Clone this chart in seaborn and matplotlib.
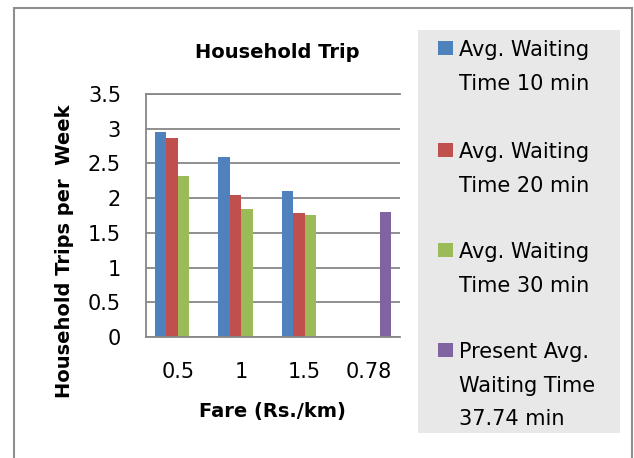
import numpy as np
import pandas as pd
import matplotlib
matplotlib.use("Agg")
import matplotlib.pyplot as plt
from matplotlib.patches import Rectangle
import seaborn as sns

# Fare categories on the x axis (kept as text so 0.78 stays last)
fares = ["0.5", "1", "1.5", "0.78"]
scenario_fares = ["0.5", "1", "1.5"]
present_fares = ["0.78"]

# Household trips per week for each waiting-time scenario
wait_10 = [2.95, 2.59, 2.11]
wait_20 = [2.87, 2.04, 1.78]
wait_30 = [2.32, 1.85, 1.76]
present_wait = [1.80]

series_labels = [
    "Avg. Waiting\nTime 10 min",
    "Avg. Waiting\nTime 20 min",
    "Avg. Waiting\nTime 30 min",
    "Present Avg.\nWaiting Time\n37.74 min",
]
colors = ["#4F81BD", "#C0504D", "#9BBB59", "#8064A2"]

ytick_values = [0, 0.5, 1, 1.5, 2, 2.5, 3, 3.5]
ytick_labels = ["0", "0.5", "1", "1.5", "2", "2.5", "3", "3.5"]

rows = []
for label, fare_list, vals in [
    (series_labels[0], scenario_fares, wait_10),
    (series_labels[1], scenario_fares, wait_20),
    (series_labels[2], scenario_fares, wait_30),
    (series_labels[3], present_fares, present_wait),
]:
    for f, v in zip(fare_list, vals):
        rows.append({"fare": f, "trips": v, "series": label})
df = pd.DataFrame(rows)

sns.set_style("white")
plt.rcParams["font.family"] = ["DejaVu Sans"]
plt.rcParams["text.color"] = "black"
plt.rcParams["axes.labelcolor"] = "black"
plt.rcParams["xtick.color"] = "black"
plt.rcParams["ytick.color"] = "black"

W, H = 634, 458
fig = plt.figure(figsize=(W / 100, H / 100), dpi=100)

grid_gray = "#878787"

# outer chart border
fig.patches.append(Rectangle((14 / W, -0.05), (632 - 14) / W, 1.05 - 8 / H,
                             transform=fig.transFigure, fill=False,
                             edgecolor="#8E8E8E", linewidth=1.5, clip_on=False))

ax = fig.add_axes([146 / W, 1 - 337 / H, 254 / W, 243 / H])
sns.barplot(data=df, x="fare", y="trips", hue="series", order=fares,
            hue_order=series_labels, palette=colors, width=0.72,
            saturation=1, linewidth=0, errorbar=None, legend=False, ax=ax)

ax.set_ylim(0, 3.5)
ax.set_yticks(ytick_values)
ax.set_yticklabels(ytick_labels)
ax.grid(axis="y", color=grid_gray, linewidth=1.3)
ax.grid(axis="x", visible=False)
ax.set_axisbelow(True)
for side in ["left", "bottom", "top"]:
    ax.spines[side].set_color(grid_gray)
    ax.spines[side].set_linewidth(1.3)
ax.spines["right"].set_visible(False)
ax.tick_params(axis="both", length=0, labelsize=15, labelcolor="black")
ax.tick_params(axis="y", pad=18)
ax.tick_params(axis="x", pad=18)

ax.set_xlabel("Fare (Rs./km)", fontsize=14, fontweight="bold", va="center",
              color="black")
ax.xaxis.set_label_coords((272 - 146) / 254, (337 - 412) / 243)
ax.set_ylabel("Household Trips per  Week", fontsize=14, fontweight="bold",
              va="center", ha="center", color="black")
ax.yaxis.set_label_coords((65 - 146) / 254, (337 - 251) / 243)

fig.text(277 / W, 1 - 52 / H, "Household Trip", ha="center", va="center",
         fontsize=14, fontweight="bold", color="black")

# legend panel
fig.patches.append(Rectangle((418 / W, 1 - 433 / H), 202 / W, 403 / H,
                             transform=fig.transFigure, facecolor="#E8E8E8",
                             edgecolor="none"))
entry_top = [48, 150, 250, 350]
line_step = 33.5
for y0, label, c in zip(entry_top, series_labels, colors):
    fig.patches.append(Rectangle((438 / W, 1 - (y0 + 7) / H), 15 / W, 14 / H,
                                 transform=fig.transFigure, facecolor=c,
                                 edgecolor="none"))
    for i, line in enumerate(label.split("\n")):
        fig.text(459 / W, 1 - (y0 + i * line_step) / H, line, ha="left",
                 va="center_baseline", fontsize=15, color="black")

fig.savefig("out.png", dpi=100)
